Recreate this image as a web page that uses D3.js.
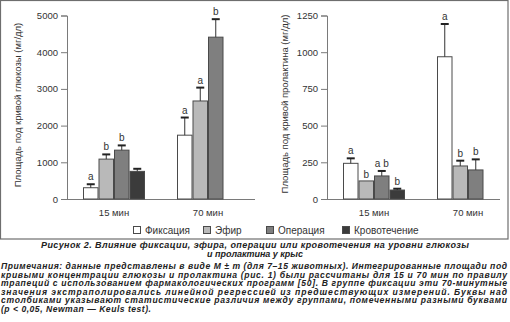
<!DOCTYPE html>
<html><head><meta charset="utf-8">
<script src="https://cdn.jsdelivr.net/npm/d3@7"></script>
<style>body{margin:0;background:#fff}svg{display:block}</style>
</head><body>
<svg id="c" width="510" height="322"></svg>
<script>
const groups = ["15 мин", "70 мин"];
const series = ["Фиксация", "Эфир", "Операция", "Кровотечение"];
const colors = ["#ffffff", "#b9b9b9", "#7f7f7f", "#3b3b3b"];

const glucose15 = [307, 1087, 1331, 753];
const glucose15Err = [95, 128, 129, 70];
const glucose15Sig = ["a", "b", "b", ""];
const glucose70 = [1739, 2671, 4410, null];
const glucose70Err = [481, 364, 490, null];
const glucose70Sig = ["a", "a", "b", ""];
const glucoseTicks = [0, 1000, 2000, 3000, 4000, 5000];

const prolactin15 = [243, 123, 157, 61];
const prolactin15Err = [34, 0, 34, 9];
const prolactin15Sig = ["a", "b", "a b", "b"];
const prolactin70 = [969, 225, 198, null];
const prolactin70Err = [223, 36, 72, null];
const prolactin70Sig = ["a", "b", "b", ""];
const prolactinTicks = [0, 250, 500, 750, 1000, 1250];

const captionLines = ["Рисунок 2. Влияние фиксации, эфира, операции или кровотечения на уровни глюкозы", "и пролактина у крыс"];
const noteLines = [
  "Примечания: данные представлены в виде M ± m (для 7–15 животных). Интегрированные площади под",
  "кривыми концентрации глюкозы и пролактина (рис. 1) были рассчитаны для 15 и 70 мин по правилу",
  "трапеций с использованием фармакологических программ [50]. В группе фиксации эти 70-минутные",
  "значения экстраполировались линейной регрессией из предшествующих измерений. Буквы над",
  "столбиками указывают статистические различия между группами, помеченными разными буквами",
  "(p < 0,05, Newman — Keuls test)."
];

const svg = d3.select("#c");
const FONT = "'Liberation Sans', Arial, sans-serif";

svg.append("rect").attr("x", 0.5).attr("y", 0.5).attr("width", 507.5).attr("height", 238.5)
  .attr("fill", "none").attr("stroke", "#6e6e6e").attr("stroke-width", 1.2);

function panel(cfg) {
  const y = d3.scaleLinear().domain([0, cfg.ticks[cfg.ticks.length - 1]]).range([199, 15.5]);
  const x = d3.scaleBand().domain(groups).range(cfg.xRange).padding(0);
  const xi = d3.scaleBand().domain(series).range([-31, 31]).padding(0);
  const g = svg.append("g");

  const ax = g.append("g").attr("transform", `translate(${cfg.axisX},0)`)
    .call(d3.axisLeft(y).tickValues(cfg.ticks).tickSize(6).tickPadding(3).tickFormat(d3.format("d")));
  ax.select(".domain").attr("stroke", "#7a7a7a");
  ax.selectAll(".tick line").attr("stroke", "#7a7a7a");
  ax.selectAll("text").attr("font-family", FONT).attr("font-size", 9.5).attr("fill", "#333");

  g.append("line").attr("x1", cfg.axisX).attr("x2", cfg.axisEnd).attr("y1", y(0) + 0.5).attr("y2", y(0) + 0.5)
    .attr("stroke", "#7a7a7a");

  groups.forEach((grp, gi) => {
    const vals = gi === 0 ? cfg.v15 : cfg.v70;
    const errs = gi === 0 ? cfg.e15 : cfg.e70;
    const sigs = gi === 0 ? cfg.s15 : cfg.s70;
    const cx = x(grp) + x.bandwidth() / 2;
    series.forEach((s, si) => {
      const v = vals[si];
      if (v == null) return;
      const bx = cx + xi(s);
      const bw = xi.bandwidth();
      g.append("rect").attr("x", bx + 0.5).attr("y", y(v)).attr("width", bw - 1).attr("height", y(0) - y(v))
        .attr("fill", colors[si]).attr("stroke", "#4a4a4a").attr("stroke-width", 1);
      const mx = bx + bw / 2;
      let top = y(v);
      if (errs[si]) {
        const ey = y(v + errs[si]);
        g.append("line").attr("x1", mx).attr("x2", mx).attr("y1", y(v)).attr("y2", ey)
          .attr("stroke", "#333").attr("stroke-width", 1);
        g.append("line").attr("x1", mx - 4).attr("x2", mx + 4).attr("y1", ey).attr("y2", ey)
          .attr("stroke", "#222").attr("stroke-width", 2);
        top = ey - 1;
      }
      if (sigs[si]) {
        g.append("text").attr("x", mx).attr("y", top - 3).attr("text-anchor", "middle")
          .attr("font-family", FONT).attr("font-size", 10).attr("fill", "#333").text(sigs[si]);
      }
    });
    g.append("text").attr("x", cx).attr("y", 215.5).attr("text-anchor", "middle")
      .attr("font-family", FONT).attr("font-size", 9.5).attr("fill", "#333").text(grp);
  });

  g.append("text").attr("transform", `translate(${cfg.titleX},${cfg.titleY}) rotate(-90)`)
    .attr("text-anchor", "middle").attr("dominant-baseline", "central")
    .attr("font-family", FONT).attr("font-size", 9.5).attr("fill", "#333").text(cfg.title);
}

panel({ ticks: glucoseTicks, xRange: [67, 255], axisX: 67, axisEnd: 255,
  v15: glucose15, e15: glucose15Err, s15: glucose15Sig,
  v70: glucose70, e70: glucose70Err, s70: glucose70Sig,
  title: "Площадь под кривой глюкозы (мг/дл)", titleX: 17, titleY: 105 });

panel({ ticks: prolactinTicks, xRange: [327, 515], axisX: 327, axisEnd: 500,
  v15: prolactin15, e15: prolactin15Err, s15: prolactin15Sig,
  v70: prolactin70, e70: prolactin70Err, s70: prolactin70Sig,
  title: "Площадь под кривой пролактина (мг/дл)", titleX: 284, titleY: 104 });

// legend
const legX = [133, 203, 266, 342];
series.forEach((s, i) => {
  svg.append("rect").attr("x", legX[i] + 0.5).attr("y", 226.5).attr("width", 7).attr("height", 7)
    .attr("fill", colors[i]).attr("stroke", "#4a4a4a");
  svg.append("text").attr("x", legX[i] + 12).attr("y", 234).attr("font-family", FONT)
    .attr("font-size", 10).attr("fill", "#333").text(s);
});

// caption
const CF = "'Liberation Sans', Arial, sans-serif";
svg.append("text").attr("x", 255).attr("y", 248).attr("text-anchor", "middle")
  .attr("font-family", CF).attr("font-size", 9).attr("font-weight", "bold").attr("font-style", "italic")
  .attr("fill", "#222").attr("textLength", 428).attr("lengthAdjust", "spacing").text(captionLines[0]);
svg.append("text").attr("x", 255).attr("y", 256.5).attr("text-anchor", "middle")
  .attr("font-family", CF).attr("font-size", 9).attr("font-weight", "bold").attr("font-style", "italic")
  .attr("fill", "#222").attr("textLength", 96).attr("lengthAdjust", "spacing").text(captionLines[1]);

const noteY = [269, 277.5, 286, 294.5, 303, 311.5];
noteLines.forEach((t, i) => {
  const el = svg.append("text").attr("x", 1).attr("y", noteY[i])
    .attr("font-family", CF).attr("font-size", 8.6).attr("font-weight", "bold").attr("font-style", "italic")
    .attr("fill", "#222").text(t);
  el.attr("textLength", i < noteLines.length - 1 ? 506 : 150).attr("lengthAdjust", "spacing");
});
</script>
</body></html>
